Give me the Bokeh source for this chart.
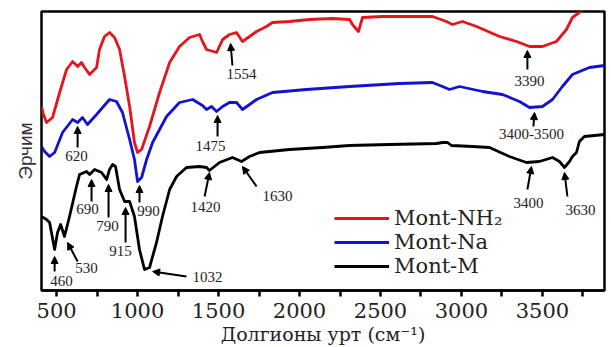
from bokeh.plotting import figure
from bokeh.models import (Range1d, FixedTicker, Arrow, NormalHead, Legend, LegendItem,
                          ColumnDataSource, LabelSet)
from bokeh.embed import file_html
from bokeh.resources import INLINE

# ---- spectra (wavenumber cm^-1, intensity a.u.) ----
wn_nh2 = [407, 419, 438, 475, 519, 562, 599, 630, 654, 673, 704, 747, 765, 796, 827, 858, 889, 920,
          951, 981, 1000, 1025, 1074, 1136, 1198, 1259, 1321, 1383, 1401, 1426, 1488, 1525, 1568,
          1611, 1648, 1735, 1796, 1833, 1938, 2062, 2204, 2309, 2327, 2364, 2389, 2512, 2821, 2907,
          2944, 3006, 3093, 3235, 3340, 3420, 3500, 3586, 3648, 3685, 3728, 3790]
int_nh2 = [184, 176, 168, 173, 198, 221, 229, 224, 228, 223, 216, 223, 241, 254, 258, 253, 241, 214,
           184, 148, 138, 141, 164, 198, 228, 244, 253, 256, 249, 241, 238, 251, 256,
           258, 249, 259, 264, 268, 269, 271, 272, 271, 266, 259, 273, 274, 274, 269,
           266, 269, 264, 254, 249, 244, 244, 249, 261, 273, 278, 286]

wn_na = [407, 426, 457, 488, 537, 599, 630, 660, 691, 747, 827, 870, 907, 951, 981, 1000, 1025, 1056,
         1093, 1179, 1259, 1340, 1401, 1426, 1457, 1488, 1525, 1568, 1611, 1648, 1735, 1833, 2043,
         2309, 2617, 2821, 2883, 2926, 2988, 3130, 3253, 3358, 3420, 3500, 3562, 3623, 3685, 3790, 3883]
int_na = [144, 139, 134, 138, 158, 171, 168, 173, 166, 176, 191, 189, 178, 151, 131, 109, 113, 131,
          148, 174, 188, 191, 185, 181, 184, 179, 184, 188, 188, 181, 191, 198, 201,
          204, 207, 208, 204, 201, 204, 199, 196, 189, 183, 184, 191, 204, 216, 223, 225]

wn_m = [407, 438, 457, 488, 506, 525, 549, 580, 623, 642, 685, 704, 735, 778, 809, 827, 846, 864, 889,
        920, 951, 981, 1012, 1043, 1074, 1117, 1154, 1198, 1241, 1302, 1383, 1426, 1444, 1506, 1586,
        1642, 1691, 1753, 1938, 2142, 2309, 2556, 2846, 2883, 2914, 2938, 3068, 3173, 3296, 3401,
        3481, 3562, 3605, 3636, 3667, 3685, 3710, 3728, 3759, 3883]
int_m = [74, 71, 68, 41, 58, 66, 54, 74, 104, 116, 119, 116, 121, 118, 111, 121, 126, 124, 101,
         89, 89, 74, 41, 21, 23, 48, 74, 101, 114, 123, 124, 123, 120, 128, 133,
         129, 134, 138, 141, 143, 145, 146, 147, 148, 148, 145, 144, 143, 134, 128,
         129, 133, 129, 123, 129, 134, 138, 149, 154, 156]

series_names = ["Mont-NH\u2082", "Mont-Na", "Mont-M"]

# ---- peak annotations ----
ann_text = ["1554", "3390", "620", "1475", "3400-3500", "990", "460", "530", "690", "790",
            "915", "1032", "1420", "1630", "3400", "3630"]
ann_x = [1642, 3420, 623, 1451, 3432, 1068, 531, 685, 691, 815, 895, 1432, 1420, 1864, 3414, 3735]
ann_y = [217, 210, 135, 145, 157, 80, 10, 23, 82, 65, 40, 14, 84, 95, 88, 81]
arr_x0 = [1586, 3407, 630, 1494, 3444, 1012, 488, 630, 716, 821, 926, 1302, 1414, 1735, 3407, 3654]
arr_y0 = [225, 221, 143, 154, 164, 88, 19, 29, 89, 73, 48, 14, 94, 104, 101, 94]
arr_x1 = [1574, 3407, 630, 1494, 3451, 1012, 488, 568, 716, 821, 926, 1093, 1444, 1648, 3432, 3636]
arr_y1 = [247, 240, 164, 175, 178, 105, 34, 48, 111, 106, 83, 19, 118, 124, 124, 118]

x_ticks = [500, 1000, 1500, 2000, 2500, 3000, 3500]
x_minor = [750, 1250, 1750, 2250, 2750, 3250, 3750]

p = figure(frame_width=563, frame_height=279, output_backend="svg", toolbar_location=None,
           x_range=Range1d(407, 3883), y_range=Range1d(0, 279),
           min_border_left=41, min_border_top=11, min_border_right=2, min_border_bottom=0)
p.xgrid.visible = False
p.ygrid.visible = False
p.outline_line_color = "black"
p.outline_line_width = 2.5

r1 = p.line(wn_nh2, int_nh2, line_color="#e8141c", line_width=2.8, line_join="round")
r2 = p.line(wn_na, int_na, line_color="#1212d2", line_width=2.8, line_join="round")
r3 = p.line(wn_m, int_m, line_color="black", line_width=2.8, line_join="round")

src = ColumnDataSource(dict(x=ann_x, y=ann_y, t=ann_text))
p.add_layout(LabelSet(x="x", y="y", text="t", source=src, text_align="center",
                      text_baseline="middle", text_font="DejaVu Serif",
                      text_font_size="15px", text_color="#222222"))
for xa, ya, xb, yb in zip(arr_x0, arr_y0, arr_x1, arr_y1):
    p.add_layout(Arrow(end=NormalHead(size=7, fill_color="black", line_color="black"),
                       x_start=xa, y_start=ya, x_end=xb, y_end=yb,
                       line_width=2, line_color="black"))

xa = p.xaxis[0]
xa.ticker = FixedTicker(ticks=x_ticks, minor_ticks=x_minor)
xa.major_tick_in = 0
xa.major_tick_out = 6
xa.minor_tick_in = 0
xa.minor_tick_out = 6
xa.axis_line_width = 2.5
xa.major_tick_line_width = 2.5
xa.minor_tick_line_width = 2.5
xa.major_label_text_font = "DejaVu Serif"
xa.major_label_text_font_size = "21px"
xa.major_label_text_color = "#222222"
xa.major_label_standoff = 6
xa.axis_label = "Долгионы урт (см\u207b\u00b9)"
xa.axis_label_text_font = "DejaVu Serif"
xa.axis_label_text_font_size = "19px"
xa.axis_label_text_font_style = "normal"
xa.axis_label_text_color = "#222222"
xa.axis_label_standoff = 2

ya = p.yaxis[0]
ya.ticker = FixedTicker(ticks=[])
ya.axis_line_color = None
ya.major_tick_line_color = None
ya.minor_tick_line_color = None
ya.axis_label = "Эрчим"
ya.axis_label_text_font = "Liberation Sans"
ya.axis_label_text_font_size = "19px"
ya.axis_label_text_font_style = "normal"
ya.axis_label_text_color = "#333333"
ya.axis_label_standoff = 6

legend = Legend(items=[LegendItem(label=series_names[0], renderers=[r1]),
                       LegendItem(label=series_names[1], renderers=[r2]),
                       LegendItem(label=series_names[2], renderers=[r3])],
                location=(293, 12), label_text_font="DejaVu Serif", label_text_font_size="21px",
                label_text_color="#222222", glyph_width=55, glyph_height=24, label_height=24,
                spacing=0, padding=0, margin=0, border_line_color=None,
                background_fill_alpha=0, label_standoff=5)
p.add_layout(legend)

open("out.html", "w").write(file_html(p, INLINE))
